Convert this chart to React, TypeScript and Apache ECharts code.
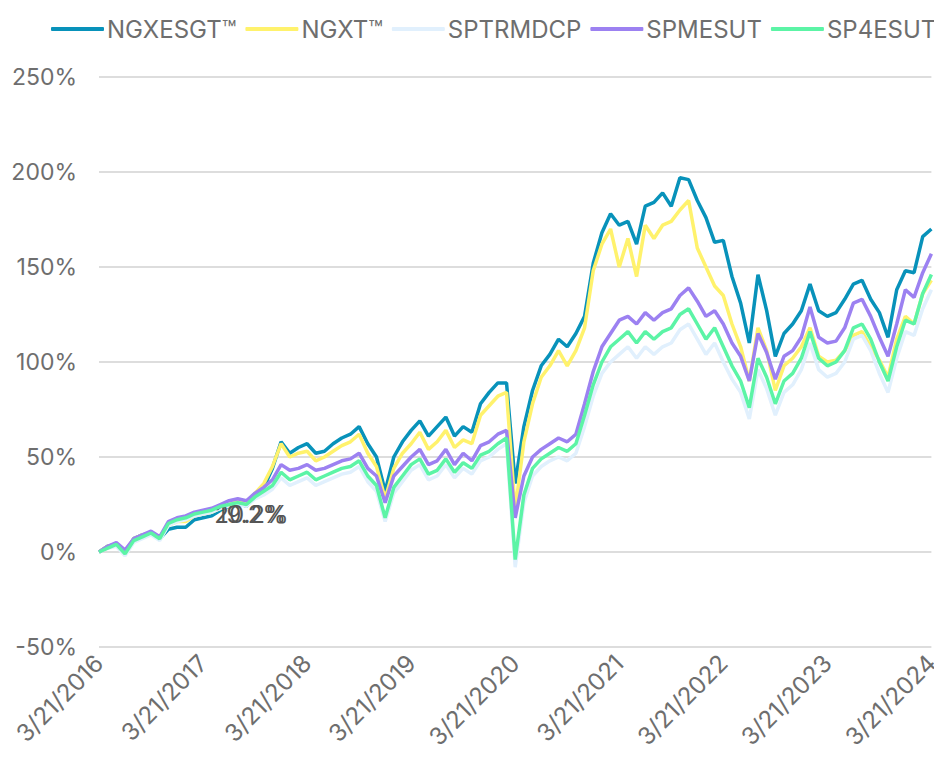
import React, { useEffect, useRef } from "react";
import * as echarts from "echarts";

// Monthly observation dates (21st of each month) 3/2016 – 3/2024
const startYear = 2016;
const dates: string[] = [];
for (let k = 0; k <= 96; k++) {
  const m = ((2 + k) % 12) + 1;
  const y = startYear + Math.floor((2 + k) / 12);
  dates.push(`${m}/21/${y}`);
}

const seriesNames = ["NGXESGT™", "NGXT™", "SPTRMDCP", "SPMESUT", "SP4ESUT"];

// cumulative return, %
const ngxesgt = [
  0, 3, 4, -1, 7, 9, 10, 7, 12, 13, 13, 17,
  18, 19, 22, 24, 26, 24, 30, 34, 44, 58, 52, 55,
  57, 52, 53, 57, 60, 62, 66, 57, 50, 32, 50, 58,
  64, 69, 61, 66, 71, 61, 66, 63, 78, 84, 89, 89,
  36, 66, 85, 98, 104, 112, 108, 115, 124, 152, 168, 178,
  172, 174, 162, 182, 184, 189, 182, 197, 196, 185, 176, 163,
  164, 145, 131, 110, 146, 127, 103, 115, 120, 127, 141, 127,
  124, 126, 133, 141, 143, 133, 126, 113, 138, 148, 147, 166,
  170,
];
const ngxt = [
  0, 3, 4, 0, 7, 9, 10, 7, 14, 16, 16, 19,
  20, 21, 23, 25, 27, 25, 31, 36, 45, 57, 50, 52,
  53, 48, 50, 53, 56, 58, 62, 52, 45, 28, 44, 52,
  57, 63, 54, 58, 64, 55, 59, 57, 72, 77, 82, 84,
  22, 58, 78, 92, 98, 106, 98, 106, 118, 148, 162, 170,
  150, 165, 145, 172, 165, 172, 174, 180, 185, 160, 150, 140,
  135, 120, 108, 90, 118, 106, 85, 98, 102, 108, 118, 103,
  100, 101, 106, 114, 116, 108, 101, 92, 112, 124, 120, 136,
  143,
];
const sptrmdcp = [
  0, 2, 3, -2, 5, 7, 9, 6, 14, 16, 17, 19,
  20, 21, 23, 24, 25, 24, 28, 30, 33, 39, 35, 37,
  39, 35, 37, 39, 41, 42, 45, 37, 32, 16, 31, 37,
  43, 46, 38, 40, 46, 39, 44, 41, 48, 50, 54, 57,
  -8, 26, 40, 45, 48, 50, 48, 52, 66, 82, 94, 100,
  104, 108, 102, 108, 104, 108, 110, 117, 120, 112, 104, 110,
  100, 91, 84, 70, 96, 86, 72, 84, 88, 96, 110, 96,
  92, 94, 100, 112, 114, 106, 94, 84, 102, 116, 114, 128,
  138,
];
const spmesut = [
  0, 3, 5, 1, 7, 9, 11, 8, 16, 18, 19, 21,
  22, 23, 25, 27, 28, 27, 31, 34, 38, 46, 43, 44,
  46, 43, 44, 46, 48, 49, 52, 44, 40, 26, 40, 45,
  50, 54, 46, 48, 54, 46, 52, 48, 56, 58, 62, 64,
  18, 40, 50, 54, 57, 60, 58, 62, 78, 95, 108, 115,
  122, 124, 120, 126, 122, 126, 128, 135, 139, 132, 124, 127,
  120, 110, 103, 90, 115, 105, 91, 103, 106, 113, 129, 113,
  110, 111, 118, 131, 133, 124, 113, 103, 120, 138, 134, 147,
  157,
];
const sp4esut = [
  0, 2, 4, -1, 6, 8, 10, 7, 15, 17, 18, 20,
  21, 22, 24, 25, 26, 25, 29, 32, 35, 42, 38, 40,
  42, 38, 40, 42, 44, 45, 48, 40, 35, 18, 34, 40,
  46, 49, 41, 43, 49, 42, 47, 44, 51, 53, 57, 60,
  -4, 30, 44, 49, 52, 55, 53, 57, 72, 88, 100, 108,
  112, 116, 110, 116, 112, 116, 118, 125, 128, 120, 112, 118,
  108, 98, 90, 76, 102, 92, 78, 90, 94, 102, 116, 102,
  98, 100, 106, 118, 120, 112, 100, 90, 108, 122, 120, 136,
  146,
];

const seriesValues = [ngxesgt, ngxt, sptrmdcp, spmesut, sp4esut];
const seriesColors = ["#0892BA", "#FFF26C", "#E1F0FD", "#9C81F1", "#5CF4A6"];

const yTicks = { min: -50, max: 250, interval: 50 };

// overlapping value annotations as shown in the source
const annotations = [
  { text: "20.2%", index: 17, value: 19.5 },
  { text: "19.2%", index: 17, value: 19.5 },
];

const FONT = "Inter, 'Noto Sans', sans-serif";
const TXT = "#6e6e6e";

export default function App() {
  const ref = useRef<HTMLDivElement>(null);
  useEffect(() => {
    if (!ref.current) return;
    const chart = echarts.init(ref.current, undefined, { renderer: "svg" });
    chart.setOption({
      animation: false,
      textStyle: { fontFamily: FONT },
      legend: {
        top: 12,
        left: 46,
        width: 896,
        itemWidth: 53,
        itemHeight: 4,
        itemGap: 9,
        icon: "roundRect",
        textStyle: { fontSize: 24, color: TXT, fontFamily: FONT, padding: [0, 0, 0, -2] },
        data: seriesNames,
      },
      grid: { left: 99, right: 6, top: 77, bottom: 111, containLabel: false },
      xAxis: {
        type: "category",
        data: dates,
        boundaryGap: false,
        axisLine: { show: false },
        axisTick: { show: false },
        splitLine: { show: false },
        axisLabel: {
          interval: 11,
          rotate: 45,
          fontSize: 24,
          color: TXT,
          margin: 12,
          fontFamily: FONT,
        },
      },
      yAxis: {
        type: "value",
        min: yTicks.min,
        max: yTicks.max,
        interval: yTicks.interval,
        axisLine: { show: false },
        axisTick: { show: false },
        splitLine: { lineStyle: { color: "#dddddd", width: 2 } },
        axisLabel: {
          formatter: "{value}%",
          fontSize: 23,
          color: TXT,
          margin: 22,
          fontFamily: FONT,
        },
      },
      series: seriesNames.map((name, si) => ({
        name,
        type: "line",
        data: seriesValues[si],
        showSymbol: false,
        symbol: "none",
        lineStyle: { width: 3.5, color: seriesColors[si] },
        itemStyle: { color: seriesColors[si] },
        z: 2 + si,
        markPoint:
          si === 0
            ? {
                symbol: "circle",
                symbolSize: 0,
                silent: true,
                data: annotations.map((a) => ({
                  coord: [a.index, a.value],
                  label: {
                    show: true,
                    position: "inside",
                    offset: [5, 0],
                    formatter: a.text,
                    fontSize: 24,
                    fontWeight: "normal",
                    color: "#555555",
                    fontFamily: FONT,
                  },
                })),
              }
            : undefined,
      })),
    });
    return () => chart.dispose();
  }, []);
  return <div ref={ref} style={{ width: 942, height: 758, margin: -8 }} />;
}
